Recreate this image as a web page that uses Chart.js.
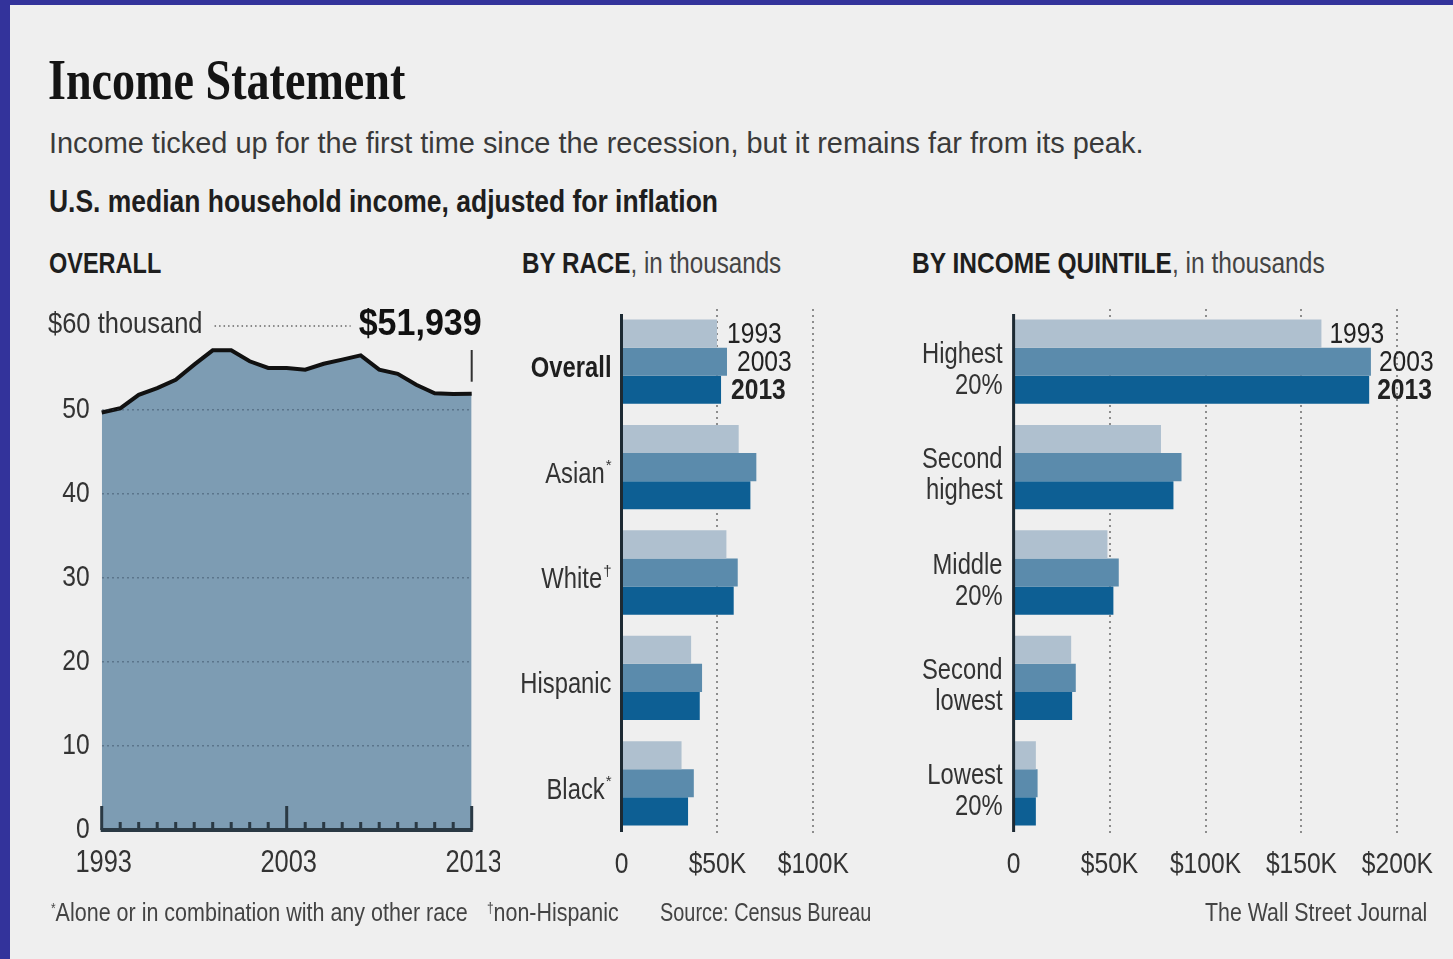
<!DOCTYPE html>
<html lang="en">
<head>
<meta charset="utf-8">
<title>Income Statement</title>
<script src="https://cdn.jsdelivr.net/npm/chart.js@4.4.1/dist/chart.umd.min.js"></script>
<style>
  html, body { margin: 0; padding: 0; }
  body { width: 1453px; height: 959px; position: relative; overflow: hidden; background: #efefef; font-family: "Liberation Sans", Arial, sans-serif; }
  .frame { position: absolute; background: #33339b; }
  .t { position: absolute; white-space: nowrap; line-height: 1; transform-origin: 0 0; color: #333; }
  .t b { color: #1e1e1e; }
  .t sup { font-size: 0.55em; line-height: 0; vertical-align: 0.6em; }
  .panel { position: absolute; top: 290px; height: 610px; }
</style>
</head>
<body>
<div class="frame" style="left:0;top:0;width:10px;height:959px"></div>
<div class="frame" style="left:0;top:0;width:1453px;height:5px"></div>

<div class="t" data-w="357" style="left:48px;top:51px;font-family:'Liberation Serif','DejaVu Serif',serif;font-size:58px;font-weight:bold;color:#141414">Income Statement</div>
<div class="t" data-w="1094" style="left:49px;top:128px;font-size:30px;color:#3a3a3a">Income ticked up for the first time since the recession, but it remains far from its peak.</div>
<div class="t" data-w="669" style="left:49px;top:185px;font-size:32px;font-weight:bold;color:#1e1e1e">U.S. median household income, adjusted for inflation</div>
<div class="t" data-w="112" style="left:49px;top:248px;font-size:30px;font-weight:bold;color:#1e1e1e">OVERALL</div>
<div class="t" data-w="259" style="left:522px;top:248px;font-size:30px;color:#444"><b>BY RACE</b>, in thousands</div>
<div class="t" data-w="413" style="left:912px;top:248px;font-size:30px;color:#444"><b>BY INCOME QUINTILE</b>, in thousands</div>

<div class="panel" style="left:0;width:500px"><canvas id="overallChart"></canvas></div>
<div class="panel" style="left:500px;width:400px"><canvas id="raceChart"></canvas></div>
<div class="panel" style="left:890px;width:563px"><canvas id="quintileChart"></canvas></div>

<div class="t" data-w="417" style="left:51px;top:900px;font-size:25px;color:#444"><sup>*</sup>Alone or in combination with any other race</div>
<div class="t" data-w="132" style="left:487px;top:900px;font-size:25px;color:#444"><sup>†</sup>non-Hispanic</div>
<div class="t" data-w="211" style="left:660px;top:900px;font-size:25px;color:#444">Source: Census Bureau</div>
<div class="t" data-w="222" style="left:1205px;top:900px;font-size:25px;color:#444">The Wall Street Journal</div>

<script>
// Overall median household income, thousands of 2013 dollars
const years = ['1993', '1994', '1995', '1996', '1997', '1998', '1999', '2000', '2001', '2002', '2003',
               '2004', '2005', '2006', '2007', '2008', '2009', '2010', '2011', '2012', '2013'];
const medianIncome = [49.7, 50.2, 51.8, 52.6, 53.6, 55.4, 57.1, 57.1, 55.8, 55.0, 55.0,
                      54.8, 55.5, 56.0, 56.5, 54.8, 54.3, 53.0, 52.0, 51.9, 51.939];
const overallTicks = [0, 10, 20, 30, 40, 50, 60];
const yearLabels = ['1993', '2003', '2013'];
const latestLabel = '$51,939';

// By race, thousands
const raceCategories = ['Overall', 'Asian', 'White', 'Hispanic', 'Black'];
const raceNotes = ['', '*', '†', '', '*'];
const race1993 = [49.8, 61.1, 54.7, 36.3, 31.3];
const race2003 = [55.0, 70.3, 60.6, 42.0, 37.7];
const race2013 = [51.9, 67.2, 58.5, 40.8, 34.7];
const raceTicks = [0, 50, 100];

// By income quintile, thousands
const quintileCategories = [['Highest', '20%'], ['Second', 'highest'], ['Middle', '20%'], ['Second', 'lowest'], ['Lowest', '20%']];
const quint1993 = [160.4, 76.8, 48.9, 30.0, 11.6];
const quint2003 = [186.2, 87.5, 54.8, 32.4, 12.5];
const quint2013 = [185.3, 83.3, 52.0, 30.5, 11.6];
const quintileTicks = [0, 50, 100, 150, 200];

const seriesYears = ['1993', '2003', '2013'];
const seriesColors = ['#afc0cf', '#5b8bac', '#0d5f94'];

const FONT = '"Liberation Sans", Arial, sans-serif';
const SX = 0.82; // horizontal squeeze for the condensed newspaper face
const INK = '#333';

// fit the html headings to the widths of the original
document.querySelectorAll('.t').forEach(el => {
    const w = +el.dataset.w;
    el.style.transform = `scaleX(${w / el.offsetWidth})`;
});

function drawText(ctx, str, x, y, size, o = {}) {
    const sx = o.sx || SX;
    ctx.save();
    ctx.font = `${o.bold ? 'bold ' : ''}${size}px ${FONT}`;
    ctx.fillStyle = o.color || INK;
    ctx.textBaseline = o.baseline || 'middle';
    ctx.textAlign = o.align || 'center';
    ctx.translate(x, y);
    ctx.scale(sx, 1);
    ctx.fillText(str, 0, 0);
    const w = ctx.measureText(str).width * sx;
    ctx.restore();
    return w;
}

// ---------- overall area chart ----------
const overallDecor = {
    id: 'overallDecor',
    afterDraw(chart) {
        const { ctx, chartArea, scales: { x, y } } = chart;
        const y0 = y.getPixelForValue(0);
        const topVal = overallTicks[overallTicks.length - 1];
        const yTop = y.getPixelForValue(topVal);

        // axis with year ticks pointing up
        ctx.save();
        ctx.fillStyle = '#2a3944';
        ctx.fillRect(chartArea.left - 1, y0 - 2, chartArea.right - chartArea.left + 2, 4);
        years.forEach((yr, i) => {
            const px = x.getPixelForValue(i);
            const h = yearLabels.includes(yr) ? 24 : 8;
            ctx.fillRect(px - 1.5, y0 - h, 3, h);
        });
        ctx.restore();

        yearLabels.forEach(yr => drawText(ctx, yr, x.getPixelForValue(years.indexOf(yr)) + 2, y0 + 33, 31));
        overallTicks.slice(0, -1).forEach(v => {
            drawText(ctx, String(v), chartArea.left - 12, y.getPixelForValue(v), 30, { align: 'right' });
        });

        // top label, leader dots and latest value
        const wTop = drawText(ctx, `$${topVal} thousand`, 48, yTop - 1, 30, { align: 'left', sx: 0.85 });
        const xLast = x.getPixelForValue(years.length - 1);
        const wLast = drawText(ctx, latestLabel, xLast + 10, yTop - 1, 37, { align: 'right', bold: true, sx: 0.92, color: '#111' });
        ctx.save();
        ctx.strokeStyle = '#666';
        ctx.lineWidth = 1.5;
        ctx.setLineDash([1.5, 3]);
        ctx.beginPath();
        ctx.moveTo(48 + wTop + 12, yTop);
        ctx.lineTo(xLast + 10 - wLast - 8, yTop);
        ctx.stroke();
        ctx.setLineDash([]);
        ctx.fillStyle = '#333';
        const yLast = y.getPixelForValue(medianIncome[medianIncome.length - 1]);
        ctx.fillRect(xLast - 1, yTop + 24, 2, yLast - 12 - (yTop + 24));
        ctx.restore();
    }
};

new Chart(document.getElementById('overallChart'), {
    type: 'line',
    data: {
        labels: years,
        datasets: [{
            data: medianIncome,
            fill: 'origin',
            backgroundColor: '#7d9cb3',
            borderColor: '#111',
            borderWidth: 4,
            pointRadius: 0,
            tension: 0
        }]
    },
    options: {
        responsive: true,
        maintainAspectRatio: false,
        animation: false,
        devicePixelRatio: 1,
        layout: { padding: { left: 0, right: 28.3, top: 36, bottom: 0 } },
        plugins: { legend: { display: false }, tooltip: { enabled: false } },
        scales: {
            x: {
                ticks: { display: false },
                grid: { display: false },
                border: { display: false },
                afterFit: s => { s.height = 70; }
            },
            y: {
                min: 0,
                max: overallTicks[overallTicks.length - 1],
                afterBuildTicks: s => { s.ticks = overallTicks.map(v => ({ value: v })); },
                ticks: { display: false },
                grid: {
                    z: 1,
                    drawTicks: false,
                    lineWidth: 1.5,
                    color: c => (c.tick && (c.tick.value === 0 || c.tick.value === overallTicks[overallTicks.length - 1])) ? 'transparent' : 'rgba(40,60,80,0.4)'
                },
                border: { display: false, dash: [2, 3] },
                afterFit: s => { s.width = 101.7; }
            }
        }
    },
    plugins: [overallDecor]
});

// ---------- grouped horizontal bars ----------
function makeBars(canvasId, categories, seriesData, tickValues, axisWidth, padRight, yearGap, drawCategory) {
    const decor = {
        id: canvasId + 'Decor',
        afterDraw(chart) {
            const { ctx, chartArea, scales: { x, y } } = chart;
            const x0 = x.getPixelForValue(0);
            ctx.save();
            ctx.fillStyle = '#1d2a33';
            ctx.fillRect(x0 - 1.5, chartArea.top + 5, 3, chartArea.bottom - chartArea.top - 9);
            ctx.restore();

            tickValues.forEach(v => {
                drawText(ctx, v === 0 ? '0' : `$${v}K`, x.getPixelForValue(v), chartArea.bottom + 29, 30);
            });
            categories.forEach((c, i) => drawCategory(ctx, c, i, chartArea.left, y.getPixelForValue(i)));

            seriesYears.forEach((yr, d) => {
                const bar = chart.getDatasetMeta(d).data[0];
                drawText(ctx, yr, bar.x + yearGap, bar.y + 1, 30, { align: 'left', bold: yr === '2013', color: '#222' });
            });
        }
    };

    return new Chart(document.getElementById(canvasId), {
        type: 'bar',
        data: {
            labels: categories.map(c => [].concat(c).join(' ')),
            datasets: seriesYears.map((yr, d) => ({
                label: yr,
                data: seriesData[d],
                backgroundColor: seriesColors[d],
                borderWidth: 0,
                barPercentage: 1,
                categoryPercentage: 0.8
            }))
        },
        options: {
            indexAxis: 'y',
            responsive: true,
            maintainAspectRatio: false,
            animation: false,
            devicePixelRatio: 1,
            layout: { padding: { left: 0, right: padRight, top: 19, bottom: 0 } },
            plugins: { legend: { display: false }, tooltip: { enabled: false } },
            scales: {
                x: {
                    min: 0,
                    max: tickValues[tickValues.length - 1],
                    afterBuildTicks: s => { s.ticks = tickValues.map(v => ({ value: v })); },
                    ticks: { display: false },
                    grid: {
                        drawTicks: false,
                        lineWidth: 2,
                        color: c => (c.tick && c.tick.value === 0) ? 'transparent' : '#8d8d8d'
                    },
                    border: { display: false, dash: [2, 4] },
                    afterFit: s => { s.height = 64; }
                },
                y: {
                    ticks: { display: false },
                    grid: { display: false },
                    border: { display: false },
                    afterFit: s => { s.width = axisWidth; }
                }
            }
        },
        plugins: [decor]
    });
}

makeBars('raceChart', raceCategories, [race1993, race2003, race2013], raceTicks, 121.5, 86.7, 10,
    (ctx, name, i, left, yc) => {
        let right = left - 10;
        const note = raceNotes[i];
        if (note) {
            const wn = drawText(ctx, note, right, yc + 3, 15, { align: 'right', baseline: 'alphabetic', sx: 1 });
            right -= wn + 1;
        }
        drawText(ctx, name, right, yc + 15.5, 29, { align: 'right', baseline: 'alphabetic', bold: i === 0, color: i === 0 ? '#1e1e1e' : INK });
    });

makeBars('quintileChart', quintileCategories, [quint1993, quint2003, quint2013], quintileTicks, 123.6, 55.6, 8,
    (ctx, lines, i, left, yc) => {
        lines.forEach((ln, k) => drawText(ctx, ln, left - 11, yc + 1 + k * 31, 29, { align: 'right', baseline: 'alphabetic' }));
    });
</script>
</body>
</html>
